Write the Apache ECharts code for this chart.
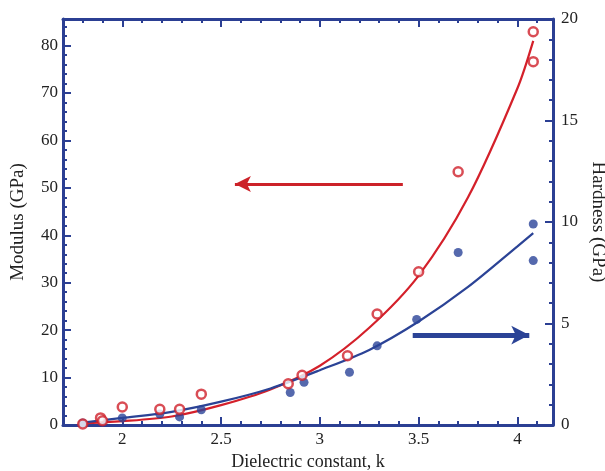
<!DOCTYPE html>
<html>
<head>
<meta charset="utf-8">
<script src="https://cdn.jsdelivr.net/npm/echarts@6/dist/echarts.min.js"></script>
<style>html,body{margin:0;padding:0;background:#fff;}#c{width:605px;height:471px;}</style>
</head>
<body>
<div id="c"></div>
<script>
// Measured data (dielectric constant k)
const modulusK = [1.80, 1.89, 1.90, 2.00, 2.19, 2.29, 2.40, 2.84, 2.91, 3.14, 3.29, 3.50, 3.70, 4.08, 4.08];
const modulusV = [0.2, 1.5, 0.9, 3.8, 3.3, 3.3, 6.5, 8.7, 10.5, 14.6, 23.4, 32.3, 53.4, 82.9, 76.6];
const hardnessK = [1.80, 1.90, 2.00, 2.19, 2.29, 2.40, 2.85, 2.92, 3.15, 3.29, 3.49, 3.70, 4.08, 4.08];
const hardnessV = [0.1, 0.2, 0.35, 0.54, 0.4, 0.75, 1.6, 2.1, 2.6, 3.9, 5.2, 8.5, 9.9, 8.1];
// Fitted curves
const fitK = [1.78, 2.0, 2.25, 2.5, 2.75, 3.0, 3.25, 3.5, 3.75, 4.0, 4.08];
const modulusFit = [0.3, 0.8, 1.8, 4.2, 7.5, 12.5, 20.5, 31.5, 48, 71, 81];
const hardnessFit = [0.1, 0.35, 0.65, 1.15, 1.8, 2.7, 3.7, 5.1, 6.8, 8.8, 9.45];
// Tick labels
const kTicks = [2, 2.5, 3, 3.5, 4];
const modulusTicks = [0, 10, 20, 30, 40, 50, 60, 70, 80];
const hardnessTicks = [0, 5, 10, 15, 20];
// Arrow annotations [x, y] in data units
const redArrow = [[3.42, 50.8], [2.57, 50.8]];
const blueArrow = [[3.47, 4.43], [4.06, 4.43]];

const zip = (a, b) => a.map((v, i) => [v, b[i]]);
const RED = '#D4202A', BLUE = '#2B4396', AX = '#2B3F93';
const FONT = 'Liberation Serif';
const TXT = '#222';
const XMIN = 1.7, XMAX = 4.18;

function xAxisDef(pos, major, withLabel) {
  const ax = {
    type: 'value', min: XMIN, max: XMAX, interval: 0.1, position: pos,
    splitLine: {show: false},
    axisLine: {show: major, lineStyle: {color: AX, width: 3}},
    axisTick: major
      ? {show: true, inside: true, length: 8, customValues: kTicks, lineStyle: {color: AX, width: 2}}
      : {show: true, inside: true, length: 4, lineStyle: {color: AX, width: 2}},
    axisLabel: {show: false}
  };
  if (withLabel) {
    ax.axisLabel = {show: true, customValues: kTicks, color: TXT, fontFamily: FONT, fontSize: 17, margin: 6};
    ax.name = 'Dielectric constant, k';
    ax.nameLocation = 'middle';
    ax.nameGap = 26;
    ax.nameTextStyle = {color: TXT, fontFamily: FONT, fontSize: 18};
  }
  return ax;
}

const chart = echarts.init(document.getElementById('c'), null, {renderer: 'canvas'});
chart.setOption({
  animation: false,
  backgroundColor: '#fff',
  grid: {left: 63, right: 52, top: 19, bottom: 46, containLabel: false, outerBoundsMode: 'none'},
  xAxis: [
    xAxisDef('bottom', true, true),
    xAxisDef('bottom', false, false),
    xAxisDef('top', true, false),
    xAxisDef('top', false, false)
  ],
  yAxis: [
    {
      type: 'value', min: 0, max: 85.6, interval: 10, position: 'left',
      splitLine: {show: false},
      axisLine: {show: true, lineStyle: {color: AX, width: 3}},
      axisTick: {show: true, inside: true, length: 8, lineStyle: {color: AX, width: 2}},
      minorTick: {show: true, splitNumber: 5, length: 4, lineStyle: {color: AX, width: 2}},
      axisLabel: {color: TXT, fontFamily: FONT, fontSize: 17, margin: 5, customValues: modulusTicks},
      name: 'Modulus (GPa)', nameLocation: 'middle', nameGap: 35,
      nameTextStyle: {color: TXT, fontFamily: FONT, fontSize: 19}
    },
    {
      type: 'value', min: 0, max: 20, interval: 5, position: 'right',
      splitLine: {show: false},
      axisLine: {show: true, lineStyle: {color: AX, width: 3}},
      axisTick: {show: true, inside: true, length: 8, lineStyle: {color: AX, width: 2}},
      minorTick: {show: true, splitNumber: 5, length: 4, lineStyle: {color: AX, width: 2}},
      axisLabel: {color: TXT, fontFamily: FONT, fontSize: 17, margin: 8, customValues: hardnessTicks},
      name: 'Hardness (GPa)', nameLocation: 'middle', nameGap: 32, nameRotate: -90,
      nameTextStyle: {color: TXT, fontFamily: FONT, fontSize: 19}
    }
  ],
  series: [
    {
      type: 'line', name: 'Modulus fit', xAxisIndex: 0, yAxisIndex: 0,
      data: zip(fitK, modulusFit), smooth: 0.3, showSymbol: false,
      lineStyle: {color: RED, width: 2.2}, z: 2,
      markLine: {
        silent: true, symbol: ['none', 'arrow'], symbolSize: [12, 16],
        label: {show: false},
        lineStyle: {color: '#CC2229', width: 3, type: 'solid'},
        data: [[{coord: redArrow[0]}, {coord: redArrow[1]}]]
      }
    },
    {
      type: 'line', name: 'Hardness fit', xAxisIndex: 0, yAxisIndex: 1,
      data: zip(fitK, hardnessFit), smooth: 0.3, showSymbol: false,
      lineStyle: {color: BLUE, width: 2.2}, z: 2,
      markLine: {
        silent: true, symbol: ['none', 'arrow'], symbolSize: [14, 18],
        label: {show: false},
        lineStyle: {color: BLUE, width: 5, type: 'solid'},
        data: [[{coord: blueArrow[0]}, {coord: blueArrow[1]}]]
      }
    },
    {
      type: 'scatter', name: 'Modulus', xAxisIndex: 0, yAxisIndex: 0,
      data: zip(modulusK, modulusV), symbol: 'circle', symbolSize: 9,
      itemStyle: {color: '#fff', borderColor: '#D0202A', borderWidth: 2.5}, z: 4
    },
    {
      type: 'scatter', name: 'Hardness', xAxisIndex: 0, yAxisIndex: 1,
      data: zip(hardnessK, hardnessV), symbol: 'circle', symbolSize: 9,
      itemStyle: {color: '#2A4399'}, z: 3
    }
  ]
});
</script>
</body>
</html>
